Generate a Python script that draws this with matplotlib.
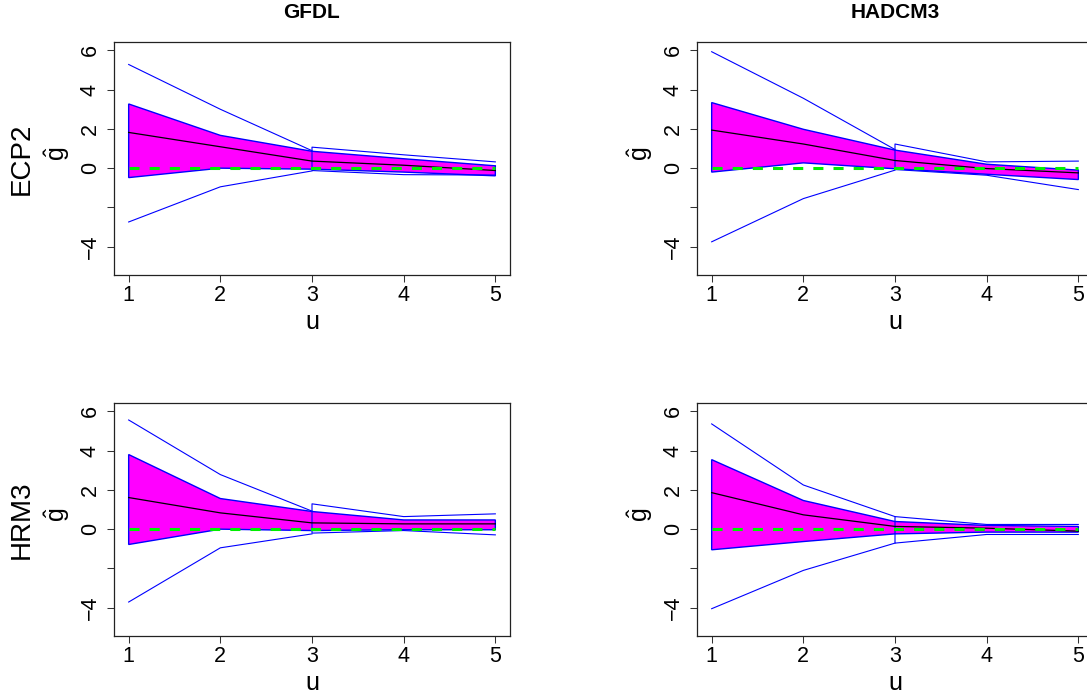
"""Bootstrap bands of g-hat by lag u for two GCMs x two RCMs (2x2 panel figure)."""

import matplotlib

matplotlib.use("Agg")
import matplotlib.pyplot as plt
import numpy as np

plt.rcParams["font.family"] = ["Liberation Sans", "DejaVu Sans"]
plt.rcParams["mathtext.fontset"] = "custom"
plt.rcParams["mathtext.rm"] = "Liberation Sans"

u = np.array([1, 2, 3, 4, 5])
u_left = u[:3]
u_right = u[2:]

# panel order: (ECP2, GFDL), (ECP2, HADCM3), (HRM3, GFDL), (HRM3, HADCM3)
col_titles = ["GFDL", "HADCM3"]
row_labels = ["ECP2", "HRM3"]

estimate = [
    [1.82, 1.09, 0.36, 0.15, -0.12],
    [1.94, 1.23, 0.39, -0.02, -0.24],
    [1.61, 0.83, 0.32, 0.27, 0.27],
    [1.86, 0.73, 0.14, 0.05, -0.10],
]
band_hi = [
    [3.27, 1.67, 0.86, 0.48, 0.12],
    [3.34, 1.98, 0.92, 0.20, -0.10],
    [3.80, 1.56, 0.90, 0.47, 0.47],
    [3.54, 1.46, 0.39, 0.19, 0.14],
]
band_lo = [
    [-0.48, 0.00, -0.05, -0.20, -0.39],
    [-0.20, 0.27, -0.03, -0.31, -0.58],
    [-0.78, 0.00, -0.07, -0.03, -0.03],
    [-1.05, -0.63, -0.24, -0.15, -0.15],
]
# outer limits, u = 1..3
outer_hi_a = [
    [5.28, 3.00, 0.89],
    [5.93, 3.56, 0.95],
    [5.56, 2.78, 0.92],
    [5.36, 2.25, 0.64],
]
outer_lo_a = [
    [-2.74, -0.95, -0.14],
    [-3.75, -1.55, -0.10],
    [-3.71, -0.95, -0.24],
    [-4.05, -2.10, -0.71],
]
# outer limits, u = 3..5
outer_hi_b = [
    [1.07, 0.68, 0.32],
    [1.23, 0.32, 0.36],
    [1.29, 0.64, 0.78],
    [0.64, 0.24, 0.24],
]
outer_lo_b = [
    [-0.12, -0.33, -0.35],
    [-0.07, -0.36, -1.09],
    [-0.20, -0.07, -0.29],
    [-0.71, -0.27, -0.27],
]

y_ticks = [-4, -2, 0, 2, 4, 6]
y_tick_labels = ["\u22124", "", "0", "2", "4", "6"]

W, H = 1087, 693
fig = plt.figure(figsize=(W / 100, H / 100), dpi=100)

lefts = [114, 697]
tops = [41.7, 402.7]
box_w, box_h = 396, 233.3

for k in range(4):
    row, col = divmod(k, 2)
    left, top = lefts[col], tops[row]
    ax = fig.add_axes([left / W, (H - top - box_h) / H, box_w / W, box_h / H])

    ax.fill(
        np.concatenate([u, u[::-1]]),
        np.concatenate([band_hi[k], band_lo[k][::-1]]),
        facecolor="#ff00ff", edgecolor="#0000ff", linewidth=1.0, zorder=2,
    )
    ax.plot(u_left, outer_hi_a[k], color="#0000ff", linewidth=0.8, zorder=3)
    ax.plot(u_left, outer_lo_a[k], color="#0000ff", linewidth=0.8, zorder=3)
    ax.plot(
        np.concatenate([u_right[::-1], u_right]),
        np.concatenate([outer_hi_b[k][::-1], outer_lo_b[k]]),
        color="#0000ff", linewidth=0.8, zorder=3,
    )
    ax.plot(u, estimate[k], color="black", linewidth=0.9, zorder=4)
    ax.plot(u, np.zeros_like(u), color="#00ee00", linewidth=2.2,
            dashes=(3.3, 3.3), zorder=5)

    ax.set_xlim(0.84, 5.16)
    ax.set_ylim(-5.44, 6.44)
    ax.set_xticks(u)
    ax.set_yticks(y_ticks)
    ax.set_yticklabels(y_tick_labels)
    ax.tick_params(axis="both", direction="out", length=5, width=0.75,
                   labelsize=15.5, color="#333333")
    ax.tick_params(axis="x", pad=2.5)
    ax.tick_params(axis="y", pad=4.5, labelrotation=90)
    for label in ax.get_yticklabels():
        label.set_va("center")
    for spine in ax.spines.values():
        spine.set_linewidth(0.9)
        spine.set_color("#222222")

    ax.text(0.5, -0.2, "u", transform=ax.transAxes, ha="center", va="center",
            fontsize=18)
    ax.text(-0.143, 0.52, r"$\hat{\mathrm{g}}$", transform=ax.transAxes,
            ha="center", va="center", rotation=90, fontsize=18)
    if col == 0:
        ax.text(-0.232, 0.5, row_labels[row], transform=ax.transAxes,
                ha="center", va="center", rotation=90, fontsize=20)
    if row == 0:
        ax.text(0.5, 1 + 29.5 / box_h, col_titles[col], transform=ax.transAxes,
                ha="center", va="center", fontsize=15, fontweight="bold",
                family=["Liberation Sans Narrow", "Liberation Sans"])

fig.savefig("out.png", dpi=100)
